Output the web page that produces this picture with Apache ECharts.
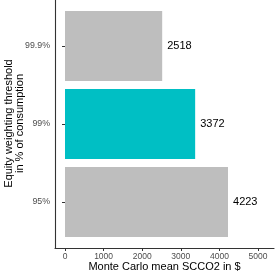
<!DOCTYPE html>
<html>
<head>
<meta charset="utf-8">
<script src="https://cdn.jsdelivr.net/npm/echarts@6/dist/echarts.min.js"></script>
<style>html,body{margin:0;padding:0;background:#fff}#c{width:275px;height:274px}</style>
</head>
<body>
<div id="c"></div>
<script>
const categories = ['95%', '99%', '99.9%'];
const values = [4223, 3372, 2518];
const xTicks = [0, 1000, 2000, 3000, 4000, 5000];
const highlighted = '99%';
const xTitle = 'Monte Carlo mean SCCO2 in $';
const yTitle = 'Equity weighting threshold\nin % of consumption';

const FONT = 'Liberation Sans, Arial, Helvetica, sans-serif';
const chart = echarts.init(document.getElementById('c'), null, {renderer: 'canvas'});
chart.setOption({
  animation: false,
  backgroundColor: '#fff',
  textStyle: {fontFamily: FONT},
  grid: [
    {left: 65, right: 17, top: 7, bottom: 33, outerBoundsMode: 'none', containLabel: false},
    {left: 55, right: 1, top: -1, bottom: 26, outerBoundsMode: 'none', containLabel: false}
  ],
  xAxis: [
    {
      gridIndex: 0, type: 'value', min: xTicks[0], max: xTicks[xTicks.length - 1],
      interval: 1000, offset: 7,
      axisLine: {show: false},
      axisTick: {show: true, length: 3, lineStyle: {color: '#333', width: 1}},
      axisLabel: {fontSize: 8.5, color: '#4d4d4d', margin: 4, fontFamily: FONT, formatter: v => String(v)},
      splitLine: {show: false}
    },
    {
      gridIndex: 1, type: 'value', min: 0, max: 1,
      axisLine: {show: true, lineStyle: {color: '#333', width: 1.1}},
      axisTick: {show: false}, axisLabel: {show: false}, splitLine: {show: false},
      name: xTitle, nameLocation: 'middle', nameGap: 13.5,
      nameTextStyle: {fontSize: 11, color: '#000', fontFamily: FONT}
    }
  ],
  yAxis: [
    {
      gridIndex: 0, type: 'category', data: categories, offset: 10,
      axisLine: {show: false},
      axisTick: {show: true, length: 3, alignWithLabel: true, lineStyle: {color: '#333', width: 1}},
      axisLabel: {fontSize: 8.8, color: '#4d4d4d', margin: 5, fontFamily: FONT}
    },
    {
      gridIndex: 1, type: 'value', min: 0, max: 1,
      axisLine: {show: true, lineStyle: {color: '#333', width: 1.1}},
      axisTick: {show: false}, axisLabel: {show: false}, splitLine: {show: false},
      name: yTitle, nameLocation: 'middle', nameGap: 29,
      nameTextStyle: {fontSize: 11, color: '#000', fontFamily: FONT, lineHeight: 11.5}
    }
  ],
  series: [{
    type: 'bar', xAxisIndex: 0, yAxisIndex: 0,
    data: values, barWidth: '90%',
    itemStyle: {
      color: p => categories[p.dataIndex] === highlighted ? '#00bfc4' : '#bebebe'
    },
    label: {show: true, position: 'right', distance: 5, fontSize: 11, color: '#000', fontFamily: FONT}
  }]
});
</script>
</body>
</html>
